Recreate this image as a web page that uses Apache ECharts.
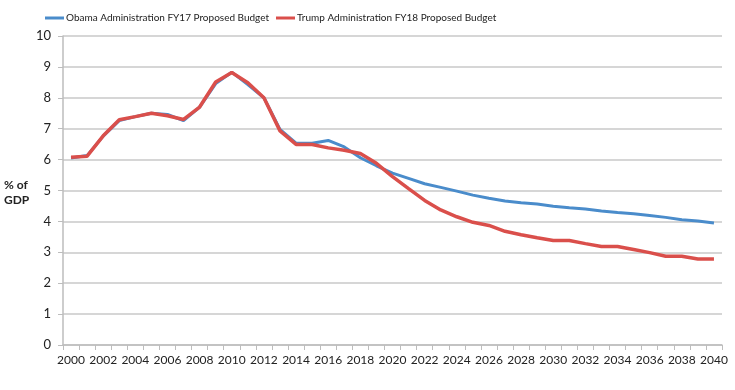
<!DOCTYPE html>
<html><head><meta charset="utf-8">
<script src="https://cdn.jsdelivr.net/npm/echarts@6/dist/echarts.min.js"></script>
<style>html,body{margin:0;padding:0;background:#fff}#c{width:735px;height:390px}</style>
</head><body><div id="c"></div>
<script>
const years = [];
for (let y = 2000; y <= 2040; y++) years.push(String(y));
const obama = [6.05,6.13,6.76,7.26,7.39,7.5,7.46,7.26,7.7,8.46,8.83,8.43,8.0,6.98,6.53,6.53,6.62,6.41,6.06,5.8,5.56,5.39,5.22,5.1,4.98,4.85,4.75,4.66,4.6,4.56,4.49,4.44,4.4,4.34,4.29,4.25,4.19,4.13,4.05,4.01,3.95];
const trump = [6.08,6.11,6.77,7.29,7.39,7.5,7.42,7.3,7.7,8.51,8.82,8.49,8.0,6.93,6.49,6.49,6.38,6.3,6.2,5.88,5.45,5.06,4.68,4.37,4.15,3.97,3.87,3.68,3.57,3.47,3.38,3.38,3.28,3.19,3.19,3.09,2.99,2.87,2.87,2.78,2.78];
const yTicks = [0,1,2,3,4,5,6,7,8,9,10];
const names = ['Obama Administration FY17 Proposed Budget','Trump Administration FY18 Proposed Budget'];
const chart = echarts.init(document.getElementById('c'));
const font = 'Lato, "Open Sans", sans-serif';
const legendBase = {top: 13, padding: 0, itemWidth: 19, itemHeight: 3, icon: 'rect',
  textStyle: {fontFamily: font, fontSize: 10, color: '#222', padding: [0,0,0,-3]}};
chart.setOption({
  animation: false,
  textStyle: {fontFamily: font},
  legend: [
    Object.assign({left: 45, data: [names[0]]}, legendBase),
    Object.assign({left: 276, data: [names[1]]}, legendBase)
  ],
  graphic: [{type: 'text', left: 4, top: 178, style: {text: '% of\nGDP', font: 'bold 12px ' + font, fill: '#222', lineHeight: 15}}],
  grid: {left: 63, right: 13, top: 36, bottom: 45},
  xAxis: {
    type: 'category', data: years, boundaryGap: true,
    axisLine: {lineStyle: {color: '#bdbdbd', width: 1.5}},
    axisTick: {show: true, interval: 0, length: 5, lineStyle: {color: '#bdbdbd'}},
    axisLabel: {interval: 1, color: '#222', fontSize: 12, fontFamily: font, margin: 9}
  },
  yAxis: {
    type: 'value', min: yTicks[0], max: yTicks[yTicks.length-1], interval: 1,
    axisLine: {show: true, lineStyle: {color: '#bdbdbd', width: 1.5}},
    axisTick: {show: true, length: 5, lineStyle: {color: '#bdbdbd'}},
    axisLabel: {color: '#222', fontSize: 13, fontFamily: font, margin: 12},
    splitLine: {lineStyle: {color: '#c8c8c8', width: 1.5}}
  },
  series: [
    {name: names[0], type: 'line', data: obama, symbol: 'none', color: '#4A8CCB', lineStyle: {width: 3, color: '#4A8CCB'}},
    {name: names[1], type: 'line', data: trump, symbol: 'none', color: '#DA4F4B', lineStyle: {width: 3.5, color: '#DA4F4B'}}
  ]
});
</script></body></html>
